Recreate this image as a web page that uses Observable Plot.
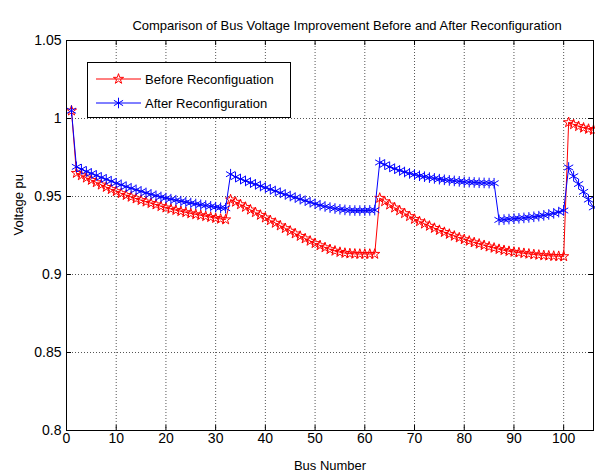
<!DOCTYPE html>
<html><head><meta charset="utf-8">
<script src="https://cdn.jsdelivr.net/npm/d3@7"></script>
<script src="https://cdn.jsdelivr.net/npm/@observablehq/plot@0.6"></script>
<style>body{margin:0;background:#fff} svg{display:block}</style>
</head><body><div id="chart"></div>
<script>
const busNumber = [1,2,3,4,5,6,7,8,9,10,11,12,13,14,15,16,17,18,19,20,21,22,23,24,25,26,27,28,29,30,
31,32,33,34,35,36,37,38,39,40,41,42,43,44,45,46,47,48,49,50,51,52,53,54,55,56,57,58,59,60,
61,62,63,64,65,66,67,68,69,70,71,72,73,74,75,76,77,78,79,80,81,82,83,84,85,86,87,88,89,90,
91,92,93,94,95,96,97,98,99,100,101,102,103,104,105,106];
const before = [1.005,
0.965,0.9635,0.962,0.9605,0.959,0.9575,0.956,0.9546,0.9533,0.952,0.9508,0.9497,0.9486,0.9476,0.9466,0.9457,0.9448,0.9437,0.9428,0.942,0.9412,0.9405,0.9398,0.9391,0.9385,0.9379,0.9373,0.9367,0.9361,0.9356,0.9352,
0.948,0.9465,0.9449,0.9432,0.9415,0.9398,0.9381,0.9364,0.9347,0.933,0.9313,0.9296,0.9279,0.9262,0.9246,0.923,0.9215,0.92,0.9186,0.9173,0.9161,0.9151,0.9143,0.9137,0.9134,0.9132,0.9131,0.9131,0.9131,0.9131,
0.949,0.9468,0.9447,0.9428,0.941,0.9392,0.9373,0.9355,0.934,0.9325,0.9311,0.9297,0.9284,0.9271,0.9259,0.9247,0.9236,0.9225,0.9215,0.9205,0.9196,0.9187,0.9178,0.917,0.9162,0.9155,0.9149,0.9144,0.914,0.9136,0.9132,0.9128,0.9125,0.9122,0.912,0.9118,0.9117,0.9116,
0.9975,0.9962,0.995,0.994,0.9932,0.9925];
const after = [1.005,
0.969,0.9675,0.966,0.9648,0.9635,0.9622,0.961,0.9598,0.9585,0.9575,0.9563,0.9553,0.9543,0.9533,0.9523,0.9514,0.9505,0.9497,0.949,0.9483,0.9476,0.947,0.9464,0.9458,0.9452,0.9447,0.9442,0.9437,0.9432,0.9428,0.9425,
0.9643,0.9625,0.9612,0.96,0.9589,0.9578,0.9567,0.9557,0.9546,0.9535,0.9524,0.9513,0.9503,0.9493,0.9483,0.9473,0.9463,0.9453,0.9444,0.9436,0.9429,0.9423,0.9418,0.9414,0.9411,0.941,0.941,0.941,0.9411,0.9413,
0.9718,0.9705,0.969,0.9678,0.9667,0.9657,0.9648,0.964,0.9633,0.9627,0.9621,0.9616,0.9611,0.9607,0.9603,0.96,0.9597,0.9594,0.9592,0.959,0.9588,0.9587,0.9586,0.9585,
0.935,0.9352,0.9355,0.9358,0.936,0.9363,0.9366,0.937,0.9374,0.9379,0.9385,0.9392,0.94,0.941,
0.9686,0.963,0.958,0.953,0.948,0.943];
const xTicks = [0,10,20,30,40,50,60,70,80,90,100];
const yTicks = [0.8,0.85,0.9,0.95,1,1.05];
const yTickLabels = ["0.8","0.85","0.9","0.95","1","1.05"];
const seriesNames = ["Before Reconfiguation","After Reconfiguration"];
const seriesColors = ["#ff0000","#0000ff"];
const seriesSymbols = ["star","asterisk"];
const titleText = "Comparison of Bus Voltage Improvement Before and After Reconfiguration";
const xLabel = "Bus Number";
const yLabel = "Voltage pu";

const rowsBefore = busNumber.map((b,i)=>({bus:b, v:before[i]}));
const rowsAfter = busNumber.map((b,i)=>({bus:b, v:after[i]}));
const W=595, H=475, mL=66, mR=2, mT=40, mB=45;
const fw = W-mL-mR, fh = H-mT-mB;
const rStar = 3.2, rAst = 5;
const font = "'Liberation Sans', Arial, Helvetica, sans-serif";

const plot = Plot.plot({
  width: W, height: H, marginLeft: mL, marginRight: mR, marginTop: mT, marginBottom: mB,
  style: {fontFamily: font, fontSize: "13px", background: "white", color: "black", overflow: "visible"},
  x: {domain: [0,106]},
  y: {domain: [0.8,1.05]},
  marks: [
    Plot.gridX(xTicks, {stroke:"#555", strokeOpacity:1, strokeDasharray:"1,2"}),
    Plot.gridY(yTicks, {stroke:"#555", strokeOpacity:1, strokeDasharray:"1,2"}),
    Plot.tickX(xTicks, {x:d=>d, insetTop: fh-5, stroke:"black"}),
    Plot.tickX(xTicks, {x:d=>d, insetBottom: fh-5, stroke:"black"}),
    Plot.tickY(yTicks, {y:d=>d, insetRight: fw-5, stroke:"black"}),
    Plot.tickY(yTicks, {y:d=>d, insetLeft: fw-5, stroke:"black"}),
    Plot.axisX(xTicks, {tickSize:0, tickPadding:3, label:null, fontSize:14}),
    Plot.axisY(yTicks, {tickSize:0, tickPadding:5, label:null, fontSize:14, tickFormat: d => yTickLabels[yTicks.indexOf(d)]}),
    Plot.line(rowsBefore, {x:"bus", y:"v", stroke:seriesColors[0], strokeWidth:1}),
    Plot.dot(rowsBefore, {x:"bus", y:"v", symbol:seriesSymbols[0], r:rStar, stroke:seriesColors[0], fill:"none", strokeWidth:1}),
    Plot.line(rowsAfter, {x:"bus", y:"v", stroke:seriesColors[1], strokeWidth:1}),
    Plot.dot(rowsAfter, {x:"bus", y:"v", symbol:seriesSymbols[1], r:rAst, stroke:seriesColors[1], fill:"none", strokeWidth:1}),
    Plot.frame({stroke:"black", strokeWidth:1}),
    Plot.text([titleText], {text:d=>d, frameAnchor:"top", dy:-20, dx:17, fontSize:13}),
    Plot.text([xLabel], {text:d=>d, frameAnchor:"bottom", dy:39, fontSize:13}),
    Plot.text([yLabel], {text:d=>d, frameAnchor:"left", dx:-48, rotate:-90, fontSize:13})
  ]
});
document.getElementById("chart").appendChild(plot);

// legend
const svg = d3.select(plot);
const lg = svg.append("g");
lg.append("rect").attr("x",87.5).attr("y",62.5).attr("width",203).attr("height",55)
  .attr("fill","white").attr("stroke","black");
const entryY = [79, 103];
const symbolTypes = [d3.symbolStar, d3.symbolAsterisk];
const symbolSizes = [Math.PI*rStar*rStar, Math.PI*rAst*rAst];
seriesNames.forEach((name,i)=>{
  const y = entryY[i];
  lg.append("line").attr("x1",96).attr("x2",141).attr("y1",y).attr("y2",y).attr("stroke",seriesColors[i]);
  lg.append("path").attr("d", d3.symbol(symbolTypes[i], symbolSizes[i])()).attr("transform",`translate(118.5,${y})`)
    .attr("fill","none").attr("stroke",seriesColors[i]);
  lg.append("text").attr("x",145).attr("y",y).attr("dy","0.35em").attr("font-size",13)
    .attr("text-anchor","start").attr("font-family",font).attr("fill","black").text(name);
});
</script></body></html>
